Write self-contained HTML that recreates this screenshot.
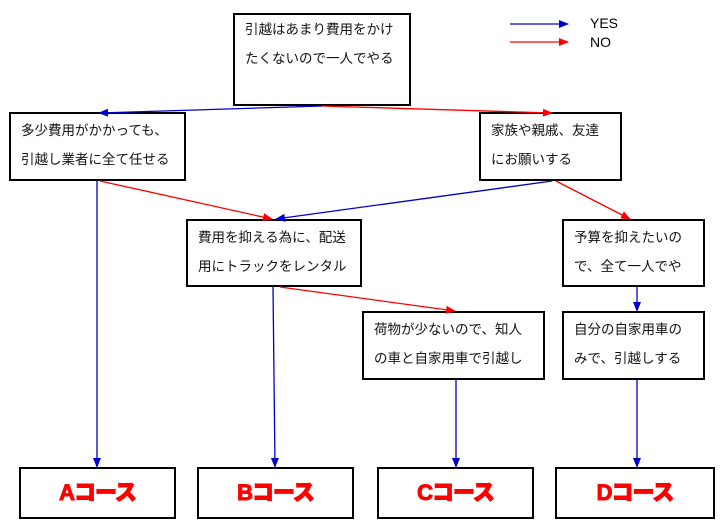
<!DOCTYPE html>
<html><head><meta charset="utf-8"><style>
body{margin:0;width:720px;height:527px;background:#fff;position:relative;overflow:hidden;font-family:"Liberation Sans","Noto Sans CJK JP",sans-serif}
.b{position:absolute;border:2px solid #000;box-sizing:border-box;background:#fff;font-size:13.5px;line-height:29px;padding:2px 0 0 10px;white-space:nowrap;color:#111}
.c{position:absolute;border:2px solid #000;box-sizing:border-box;background:#fff;text-align:center;line-height:48px;font-size:22px;font-weight:900;color:#f00;-webkit-text-stroke:1px #f00;letter-spacing:-1px}
.l{position:absolute;font-size:14px}
svg{position:absolute;left:0;top:0;z-index:2}
</style></head><body>
<svg width="720" height="527">
<defs>
<marker id="bl" markerWidth="10" markerHeight="8" refX="9" refY="4" orient="auto" markerUnits="userSpaceOnUse"><path d="M0,0L10,4L0,8z" fill="#0000cc"/></marker>
<marker id="rd" markerWidth="10" markerHeight="8" refX="9" refY="4" orient="auto" markerUnits="userSpaceOnUse"><path d="M0,0L10,4L0,8z" fill="#f00"/></marker>
</defs>
<g stroke-width="1.3" fill="none">
<line x1="510" y1="24" x2="568" y2="24" stroke="#0000cc" marker-end="url(#bl)"/>
<line x1="510" y1="42" x2="568" y2="42" stroke="#f00" marker-end="url(#rd)"/>
<line x1="322" y1="106" x2="99" y2="113" stroke="#0000cc" marker-end="url(#bl)"/>
<line x1="322" y1="106" x2="552" y2="113" stroke="#f00" marker-end="url(#rd)"/>
<line x1="97" y1="181" x2="97" y2="467" stroke="#0000cc" marker-end="url(#bl)"/>
<line x1="100" y1="181" x2="272" y2="219" stroke="#f00" marker-end="url(#rd)"/>
<line x1="552" y1="181" x2="276" y2="219" stroke="#0000cc" marker-end="url(#bl)"/>
<line x1="556" y1="181" x2="630" y2="219" stroke="#f00" marker-end="url(#rd)"/>
<line x1="273" y1="287" x2="275" y2="467" stroke="#0000cc" marker-end="url(#bl)"/>
<line x1="280" y1="287" x2="455" y2="311" stroke="#f00" marker-end="url(#rd)"/>
<line x1="456" y1="380" x2="456" y2="467" stroke="#0000cc" marker-end="url(#bl)"/>
<line x1="637" y1="287" x2="637" y2="311" stroke="#0000cc" marker-end="url(#bl)"/>
<line x1="637" y1="380" x2="637" y2="467" stroke="#0000cc" marker-end="url(#bl)"/>
</g></svg>
<div class="l" style="left:590px;top:15px">YES</div>
<div class="l" style="left:590px;top:34px">NO</div>
<div class="b" style="left:233px;top:13px;width:178px;height:93px;padding-top:0">引越はあまり費用をかけ<br>たくないので一人でやる</div>
<div class="b" style="left:9px;top:112px;width:177px;height:69px">多少費用がかかっても、<br>引越し業者に全て任せる</div>
<div class="b" style="left:479px;top:112px;width:143px;height:69px">家族や親戚、友達<br>にお願いする</div>
<div class="b" style="left:186px;top:219px;width:176px;height:68px">費用を抑える為に、配送<br>用にトラックをレンタル</div>
<div class="b" style="left:562px;top:219px;width:143px;height:68px">予算を抑えたいの<br>で、全て一人でや</div>
<div class="b" style="left:362px;top:311px;width:183px;height:69px">荷物が少ないので、知人<br>の車と自家用車で引越し</div>
<div class="b" style="left:562px;top:311px;width:143px;height:69px">自分の自家用車の<br>みで、引越しする</div>
<div class="c" style="left:19px;top:467px;width:157px;height:52px">Aコース</div>
<div class="c" style="left:197px;top:467px;width:157px;height:52px">Bコース</div>
<div class="c" style="left:377px;top:467px;width:157px;height:52px">Cコース</div>
<div class="c" style="left:555px;top:467px;width:160px;height:52px">Dコース</div>
</body></html>
